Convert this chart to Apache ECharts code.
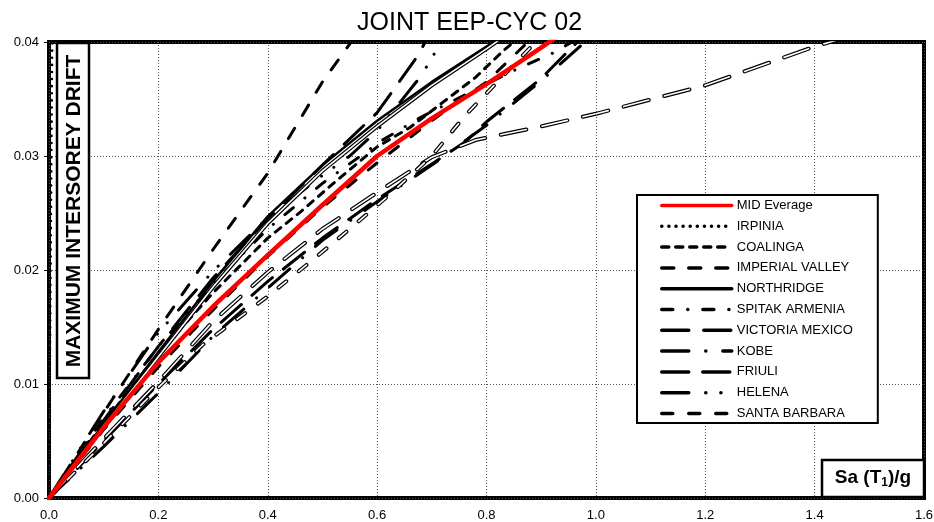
<!DOCTYPE html>
<html>
<head>
<meta charset="utf-8">
<script src="https://cdn.jsdelivr.net/npm/echarts/dist/echarts.min.js"></script>
<style>
  html, body { margin: 0; padding: 0; background: #fff; }
  #chart { width: 934px; height: 522px; }
</style>
</head>
<body>
<div id="chart"></div>
<script>
// Sa(T1)/g vs maximum interstorey drift, [sa, drift]
var midAverage = [[0,0],[0.1,0.0062],[0.2,0.0119],[0.3,0.0168],[0.4,0.0213],[0.5,0.0257],[0.6,0.0300],[0.7,0.0333],[0.8,0.0363],[0.9,0.0395],[0.95,0.0412]];
var irpinia = [[0,0],[0.006,0.0405]];
var coalinga = [[0,0],[0.1,0.0066],[0.2,0.0127],[0.3,0.0180],[0.4,0.0228],[0.46,0.0251],[0.52,0.0276],[0.6,0.0308],[0.66,0.0325],[0.72,0.0347],[0.78,0.0369],[0.83,0.0392],[0.86,0.0404]];
var imperialValley = [[0,0],[0.1,0.0075],[0.2,0.0148],[0.3,0.0218],[0.4,0.0285],[0.5,0.0365],[0.56,0.0405]];
var northridge = [[0,0],[0.1,0.0065],[0.2,0.0128],[0.3,0.0190],[0.4,0.0247],[0.5,0.0292],[0.6,0.0331],[0.7,0.0365],[0.8,0.0396],[0.85,0.0410]];
var spitakArmenia = [[0,0],[0.1,0.0070],[0.2,0.0133],[0.3,0.0188],[0.4,0.0236],[0.5,0.0276],[0.61,0.0314],[0.68,0.0334],[0.75,0.0351],[0.85,0.0375],[0.92,0.0390],[0.96,0.0401]];
var victoriaMexico = [[0,0],[0.1,0.0068],[0.2,0.0133],[0.3,0.0193],[0.4,0.0245],[0.5,0.0292],[0.6,0.0338],[0.676,0.0389],[0.69,0.0402]];
var kobe = [[0,0],[0.1,0.0045],[0.2,0.0092],[0.3,0.0142],[0.4,0.0184],[0.5,0.0226],[0.6,0.0260],[0.7,0.0292],[0.8,0.0327],[0.9,0.0366],[0.985,0.0402]];
var friuli = [[0,0],[0.1,0.0050],[0.2,0.0100],[0.3,0.0148],[0.4,0.0190],[0.5,0.0228],[0.6,0.0262],[0.7,0.0293],[0.76,0.0312],[0.8,0.0330],[0.9,0.0368],[0.97,0.0402]];
var helena = [[0,0],[0.1,0.0076],[0.2,0.0145],[0.3,0.0199],[0.4,0.0246],[0.5,0.0283],[0.55,0.0300],[0.6,0.0322],[0.68,0.0370],[0.72,0.0402]];
var santaBarbara = [[0,0],[0.1,0.0060],[0.2,0.0115],[0.3,0.0165],[0.4,0.0212],[0.5,0.0255],[0.6,0.0294],[0.7,0.0331],[0.8,0.0365],[0.88,0.0402]];
// records drawn with hollow (double) lines, not in the legend
var hollowA = [[0,0],[0.1,0.0063],[0.2,0.0124],[0.3,0.0185],[0.4,0.0241],[0.5,0.0287],[0.6,0.0326],[0.7,0.0362],[0.8,0.0394],[0.83,0.0404]];
var hollowB = [[0,0],[0.1,0.0052],[0.2,0.0102],[0.3,0.0155],[0.4,0.0198],[0.5,0.0236],[0.6,0.0268],[0.7,0.0299],[0.78,0.0314],[0.9,0.0326],[1.0,0.0337],[1.2,0.0362],[1.4,0.0396],[1.45,0.0403]];
var hollowC = [[0,0],[0.1,0.0048],[0.2,0.0097],[0.28,0.0134],[0.4,0.0177],[0.475,0.0206],[0.55,0.0236],[0.62,0.0265],[0.7,0.0300],[0.76,0.0335],[0.83,0.0370],[0.9,0.0405]];

var legendNames = ['MID Everage','IRPINIA','COALINGA','IMPERIAL VALLEY','NORTHRIDGE','SPITAK ARMENIA','VICTORIA MEXICO','KOBE','FRIULI','HELENA','SANTA BARBARA'];
var xTicks = [0, 1.6, 0.2];
var yTicks = [0, 0.04, 0.01];

var font = 'Arial, "Liberation Sans", sans-serif';

function line(name, data, color, width, dash, z) {
  return {
    name: name, type: 'line', data: data, symbol: 'none', z: z || 2,
    itemStyle: { color: 'rgba(0,0,0,0)', borderWidth: 0 },
    lineStyle: { color: color, width: width, type: dash || 'solid', cap: 'round', join: 'round' },
    emphasis: { disabled: true }, silent: true
  };
}

function hollow(name, data, dash) {
  return [
    line(name + '_o', data, '#000', 4, dash, 2),
    line(name + '_i', data, '#fff', 1.6, dash, 2)
  ];
}

var series = [
  line('IRPINIA', irpinia, '#000', 2.5, [0.1, 7]),
  line('COALINGA', coalinga, '#000', 3, [7, 7]),
  line('IMPERIAL VALLEY', imperialValley, '#000', 3, [12, 15]),
  line('NORTHRIDGE', northridge, '#000', 2.5, 'solid'),
  line('SPITAK ARMENIA', spitakArmenia, '#000', 3, [11, 15, 0.1, 15]),
  line('VICTORIA MEXICO', victoriaMexico, '#000', 3, [27, 15]),
  line('KOBE', kobe, '#000', 3, [27, 17, 0.1, 17]),
  line('FRIULI', friuli, '#000', 3, [27, 14]),
  line('HELENA', helena, '#000', 3, [27, 17, 0.1, 15, 0.1, 17]),
  line('SANTA BARBARA', santaBarbara, '#000', 3, [11, 16])
].concat(
  hollow('hA', hollowA, 'solid'),
  hollow('hB', hollowB, [26, 16]),
  hollow('hC', hollowC, [10, 16])
).concat([
  line('MID Everage', midAverage, '#ff0000', 4.5, 'solid', 5)
]);

var chart = echarts.init(document.getElementById('chart'));
chart.setOption({
  animation: false,
  backgroundColor: '#fff',
  title: {
    text: 'JOINT EEP-CYC 02',
    left: 352, top: 6,
    textStyle: { fontFamily: font, fontSize: 25, fontWeight: 'normal', color: '#000' }
  },
  legend: {
    data: legendNames,
    orient: 'vertical',
    left: 637, top: 195,
    padding: [4, 25, 3, 23],
    itemWidth: 70, itemHeight: 13, itemGap: 7.8,
    borderColor: '#000', borderWidth: 2, backgroundColor: '#fff',
    itemStyle: { color: 'rgba(0,0,0,0)', borderWidth: 0 },
    lineStyle: { width: 3.5 },
    textStyle: { fontFamily: font, fontSize: 13, color: '#000' },
    selectedMode: false, z: 20
  },
  grid: {
    left: 49, right: 10, top: 42, bottom: 24,
    show: true, borderColor: '#000', borderWidth: 4,
    containLabel: false, outerBoundsMode: 'none'
  },
  xAxis: {
    type: 'value', min: xTicks[0], max: xTicks[1], interval: xTicks[2],
    axisLine: { show: false },
    axisTick: { show: false },
    axisLabel: { color: '#000', fontFamily: font, fontSize: 13, margin: 11,
      formatter: function (v) { return v.toFixed(1); } },
    splitLine: { show: true, lineStyle: { color: '#555', width: 1, type: [1, 2] } }
  },
  yAxis: {
    type: 'value', min: yTicks[0], max: yTicks[1], interval: yTicks[2],
    axisLine: { show: false },
    axisTick: { show: true, length: 5, lineStyle: { color: '#000', width: 1 } },
    axisLabel: { color: '#000', fontFamily: font, fontSize: 13, margin: 10,
      formatter: function (v) { return v.toFixed(2); } },
    splitLine: { show: true, lineStyle: { color: '#555', width: 1, type: [1, 2] } }
  },
  graphic: [
    { type: 'rect', z: 30, shape: { x: 57, y: 43, width: 32, height: 335 },
      style: { fill: '#fff', stroke: '#000', lineWidth: 2.5 } },
    { type: 'text', z: 31, x: 74, y: 211, rotation: Math.PI / 2,
      style: { text: 'MAXIMUM INTERSOREY DRIFT', font: 'bold 21px ' + font,
        fill: '#000', align: 'center', verticalAlign: 'middle' } },
    { type: 'rect', z: 30, shape: { x: 822, y: 460, width: 102, height: 37 },
      style: { fill: '#fff', stroke: '#000', lineWidth: 2.5 } },
    { type: 'text', z: 31, x: 873, y: 478,
      style: { text: '{a|Sa (T}{s|1}{a|)/g}', fill: '#000', align: 'center', verticalAlign: 'middle',
        rich: {
          a: { fontFamily: font, fontSize: 19, fontWeight: 'bold', lineHeight: 24 },
          s: { fontFamily: font, fontSize: 12, fontWeight: 'bold', lineHeight: 24, padding: [10, 0, 0, 0] }
        } } }
  ],
  series: series
});
</script>
</body>
</html>
